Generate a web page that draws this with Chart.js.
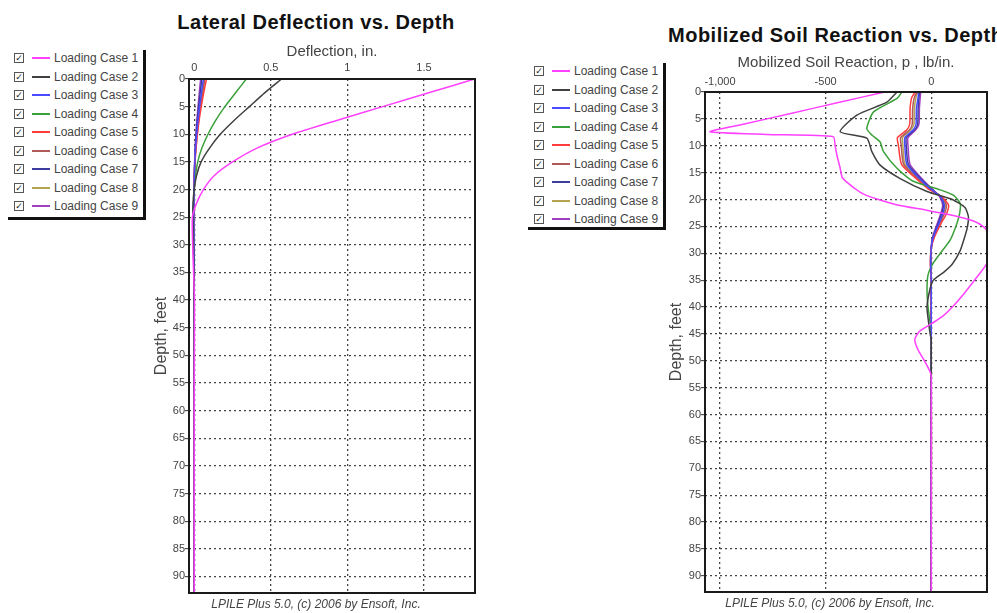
<!DOCTYPE html>
<html>
<head>
<meta charset="utf-8">
<script src="https://cdn.jsdelivr.net/npm/chart.js@4.4.1/dist/chart.umd.min.js"></script>
<style>
    body { margin: 0; width: 997px; height: 613px; overflow: hidden; background: #fff; font-family: "Liberation Sans", Arial, sans-serif; }
    .box { position: absolute; }
    .title { position: absolute; font-weight: bold; font-size: 20px; line-height: 24px; letter-spacing: 0.5px; color: #111; white-space: nowrap; }
    .footer { position: absolute; font-style: italic; font-size: 12px; line-height: 14px; color: #444; white-space: nowrap; text-align: center; }
    .legend { position: absolute; border-right: 3px solid #111; border-bottom: 3px solid #111; }
    .row { position: absolute; left: 0; height: 16px; font-size: 12px; color: #444; white-space: nowrap; }
    .chk { position: absolute; top: 3px; width: 8px; height: 8px; border: 1px solid #555; font: bold 9px "DejaVu Sans"; line-height: 8px; text-align: center; color: #222; }
    .swatch { position: absolute; top: 7px; width: 18px; height: 2px; }
    .lbl { position: absolute; top: 0; line-height: 16px; }
</style>
</head>
<body>

<div class="title" style="left:150px; top:10px; width:332px; text-align:center;">Lateral Deflection vs. Depth</div>
<div class="title" style="left:668px; top:23px;">Mobilized Soil Reaction vs. Depth</div>

<div id="legendLeft" class="legend" style="left:8px; top:50px; width:135px; height:167px;"></div>
<div id="legendRight" class="legend" style="left:528px; top:63px; width:135px; height:164px;"></div>

<div class="box" style="left:150px; top:0; width:335px; height:613px;"><canvas id="deflChart"></canvas></div>
<div class="box" style="left:640px; top:0; width:357px; height:613px;"><canvas id="soilChart"></canvas></div>

<div class="footer" style="left:150px; top:597px; width:332px;">LPILE Plus 5.0, (c) 2006 by Ensoft, Inc.</div>
<div class="footer" style="left:664px; top:596px; width:332px;">LPILE Plus 5.0, (c) 2006 by Ensoft, Inc.</div>

<script>
// Legend labels and colours
const caseLabels = ['Loading Case 1', 'Loading Case 2', 'Loading Case 3', 'Loading Case 4', 'Loading Case 5',
    'Loading Case 6', 'Loading Case 7', 'Loading Case 8', 'Loading Case 9'];
const caseColors = ['#ff40ff', '#404040', '#4a4aff', '#3aa03a', '#ff3c3c', '#b05a5a', '#3c3ca0', '#b4a450', '#a040c0'];

// Tick labels
const depthTicks = [0, 5, 10, 15, 20, 25, 30, 35, 40, 45, 50, 55, 60, 65, 70, 75, 80, 85, 90];
const deflTicks = [0, 0.5, 1, 1.5];
const soilTicks = [-1000, -500, 0];

// Lateral deflection (in.) vs depth (ft)
const defDepth = [0, 2.5, 5, 7.5, 10, 12.5, 15, 17.5, 20, 22.5, 25, 30, 35, 40, 50, 60, 70, 80, 93];
const defCase1 = [1.83, 1.53, 1.23, 0.93, 0.64, 0.41, 0.25, 0.13, 0.06, 0.015, -0.012, -0.01, -0.004, 0.002, 0.001, 0, 0, 0, 0];
const defCase2 = [0.57, 0.46, 0.36, 0.26, 0.17, 0.1, 0.045, 0.015, 0, -0.008, -0.009, -0.005, -0.002, 0, 0, 0, 0, 0, 0];
const defCase3 = [0.06, 0.047, 0.035, 0.025, 0.016, 0.009, 0.004, 0.001, -0.001, -0.002, -0.002, -0.001, 0, 0, 0, 0, 0, 0, 0];
const defCase4 = [0.34, 0.27, 0.2, 0.14, 0.09, 0.05, 0.023, 0.008, 0, -0.004, -0.005, -0.003, -0.001, 0, 0, 0, 0, 0, 0];
const defCase5 = [0.08, 0.062, 0.046, 0.032, 0.021, 0.012, 0.005, 0.001, -0.001, -0.002, -0.002, -0.001, 0, 0, 0, 0, 0, 0, 0];
const defCase6 = [0.07, 0.055, 0.041, 0.029, 0.019, 0.011, 0.005, 0.001, -0.001, -0.002, -0.002, -0.001, 0, 0, 0, 0, 0, 0, 0];
const defCase7 = [0.05, 0.039, 0.029, 0.02, 0.013, 0.007, 0.003, 0.001, -0.001, -0.001, -0.001, -0.001, 0, 0, 0, 0, 0, 0, 0];
const defCase8 = [0.065, 0.051, 0.038, 0.027, 0.017, 0.01, 0.004, 0.001, -0.001, -0.002, -0.002, -0.001, 0, 0, 0, 0, 0, 0, 0];
const defCase9 = [0.042, 0.033, 0.025, 0.017, 0.011, 0.006, 0.003, 0.001, -0.001, -0.001, -0.001, 0, 0, 0, 0, 0, 0, 0, 0];

// Mobilized soil reaction p (lb/in.) vs depth (ft)
const pDepth1 = [0, 2, 4, 6, 7.4, 7.9, 8.3, 10, 12, 14, 16, 18, 19, 20, 21, 22, 23, 24, 25, 26, 28, 30, 32, 34, 36, 38, 40, 41.7, 43, 44.5, 46, 48, 50, 52, 53, 60, 70, 80, 93];
const pCase1 = [-220, -445, -665, -890, -1047, -780, -464, -455, -445, -432, -420, -360, -320, -250, -160, -20, 110, 200, 245, 268, 290, 285, 262, 225, 185, 145, 100, 55, 5, -55, -78, -62, -32, -6, 0, 0, 0, 0, 0];
const pDepth2 = [0, 1.9, 4.3, 7.4, 8.6, 11.1, 13.6, 16.1, 18.5, 20, 21.5, 23.2, 25, 26.5, 29.5, 32, 33.5, 35, 36.5, 40, 43, 45, 46, 93];
const pCase2 = [-162, -210, -352, -431, -305, -281, -242, -147, -20, 100, 160, 176, 172, 162, 137, 100, 60, 10, -5, -20, -12, -5, 0, 0];
const pDepth4 = [0, 1.2, 3.7, 6.8, 8, 9.3, 11.1, 14.2, 16.5, 18.2, 19.2, 20.7, 22.5, 24.4, 27.5, 30, 31.8, 34, 37, 40, 43, 45, 93];
const pCase4 = [-139, -162, -273, -305, -281, -242, -226, -162, -90, 43, 105, 137, 135, 122, 90, 43, 10, -15, -20, -15, -5, 0, 0];
const pDepthN = [0, 1, 3, 6, 7, 8.5, 10, 13.5, 16.5, 18, 19.5, 21, 22.5, 24.5, 27, 29, 32, 35, 93];
const pCase3 = [-60, -62, -70, -72, -85, -125, -125, -115, -45, -5, 45, 62, 56, 36, 10, 0, -3, 0, 0];
const pCase5 = [-75, -92, -100, -102, -115, -160, -155, -140, -60, -15, 50, 82, 74, 46, 15, 0, -4, 0, 0];
const pCase6 = [-68, -80, -88, -90, -102, -145, -142, -130, -52, -8, 48, 72, 64, 40, 12, 0, -3, 0, 0];
const pCase7 = [-55, -58, -62, -64, -78, -118, -118, -108, -40, 0, 44, 58, 50, 32, 8, 0, -2, 0, 0];
const pCase8 = [-64, -72, -80, -82, -96, -136, -134, -124, -48, -6, 46, 66, 58, 38, 10, 0, -3, 0, 0];
const pCase9 = [-50, -52, -56, -58, -72, -110, -110, -100, -35, 4, 40, 54, 46, 28, 6, 0, -2, 0, 0];

const deflSeries = [
    [defDepth, defCase1], [defDepth, defCase2], [defDepth, defCase3], [defDepth, defCase4], [defDepth, defCase5],
    [defDepth, defCase6], [defDepth, defCase7], [defDepth, defCase8], [defDepth, defCase9]
];
const soilSeries = [
    [pDepth1, pCase1], [pDepth2, pCase2], [pDepthN, pCase3], [pDepth4, pCase4], [pDepthN, pCase5],
    [pDepthN, pCase6], [pDepthN, pCase7], [pDepthN, pCase8], [pDepthN, pCase9]
];

// Build the little checkbox legends
function buildLegend(el) {
    caseLabels.forEach((label, i) => {
        const row = document.createElement('div');
        row.className = 'row';
        row.style.top = (i * 18.5) + 'px';
        row.innerHTML = `<div class="chk" style="left:6px">✓</div>` +
            `<div class="swatch" style="left:24px; background:${caseColors[i]}"></div>` +
            `<div class="lbl" style="left:46px">${label}</div>`;
        el.appendChild(row);
    });
}
buildLegend(document.getElementById('legendLeft'));
buildLegend(document.getElementById('legendRight'));

// Black frame round the plot area
const framePlugin = {
    id: 'frame',
    afterDraw(chart) {
        const { ctx, chartArea: a } = chart;
        ctx.save();
        ctx.strokeStyle = '#1a1a1a';
        ctx.lineWidth = 2;
        ctx.strokeRect(a.left, a.top, a.right - a.left, a.bottom - a.top);
        ctx.restore();
    }
};

function makeDatasets(series, firstOnTop) {
    return series.map(([depths, values], i) => ({
        label: caseLabels[i],
        data: values.map((v, k) => ({ x: v, y: depths[k] })),
        showLine: true,
        borderColor: caseColors[i],
        backgroundColor: caseColors[i],
        borderWidth: 1.5,
        pointRadius: 0,
        tension: 0.2,
        order: firstOnTop ? i : 0
    }));
}

function makeChart(canvasId, series, cfg) {
    return new Chart(document.getElementById(canvasId).getContext('2d'), {
        type: 'scatter',
        data: { datasets: makeDatasets(series, cfg.firstOnTop) },
        options: {
            responsive: true,
            maintainAspectRatio: false,
            animation: false,
            layout: { padding: cfg.padding },
            plugins: { legend: { display: false }, tooltip: { enabled: false } },
            scales: {
                x: {
                    type: 'linear',
                    position: 'top',
                    min: cfg.xMin,
                    max: cfg.xMax,
                    afterBuildTicks: (s) => { s.ticks = cfg.xTicks.map(v => ({ value: v })); },
                    afterFit: (s) => { s.height = cfg.xHeight; },
                    ticks: {
                        padding: cfg.xTickPad,
                        color: '#444',
                        font: { family: 'Liberation Sans', size: 11 },
                        callback: (v) => v.toLocaleString('en-US')
                    },
                    grid: { color: '#444', lineWidth: 1.3, drawTicks: false },
                    border: { display: false, dash: [2, 3] },
                    title: {
                        display: true,
                        text: cfg.xTitle,
                        color: '#444',
                        font: { family: 'Liberation Sans', size: 15 },
                        padding: { top: cfg.xTitlePad, bottom: 0 }
                    }
                },
                y: {
                    type: 'linear',
                    reverse: true,
                    min: 0,
                    max: 93,
                    afterBuildTicks: (s) => { s.ticks = depthTicks.map(v => ({ value: v })); },
                    afterFit: (s) => { s.width = cfg.yWidth; },
                    ticks: {
                        padding: 0,
                        autoSkip: false,
                        color: '#444',
                        font: { family: 'Liberation Sans', size: 11 }
                    },
                    grid: { color: '#444', lineWidth: 1.3, drawTicks: true, tickLength: 4, tickColor: '#333', tickWidth: 1 },
                    border: { display: false, dash: [2, 3] },
                    title: {
                        display: true,
                        text: 'Depth, feet',
                        color: '#444',
                        font: { family: 'Liberation Sans', size: 16 },
                        padding: { top: cfg.yTitlePad, bottom: 0 }
                    }
                }
            }
        },
        plugins: [framePlugin]
    });
}

makeChart('deflChart', deflSeries, {
    padding: { top: 30, right: 10, bottom: 20, left: 0 },
    xMin: -0.034, xMax: 1.833, xTicks: deflTicks,
    xHeight: 49, xTickPad: 4, xTitle: 'Deflection, in.', xTitlePad: 13,
    yWidth: 39, yTitlePad: 2, firstOnTop: false
});

makeChart('soilChart', soilSeries, {
    padding: { top: 40, right: 10, bottom: 21, left: 0 },
    xMin: -1071, xMax: 264, xTicks: soilTicks,
    xHeight: 52, xTickPad: 3, xTitle: 'Mobilized Soil Reaction, p , lb/in.', xTitlePad: 14,
    yWidth: 65, yTitlePad: 27, firstOnTop: true
});
</script>
</body>
</html>
